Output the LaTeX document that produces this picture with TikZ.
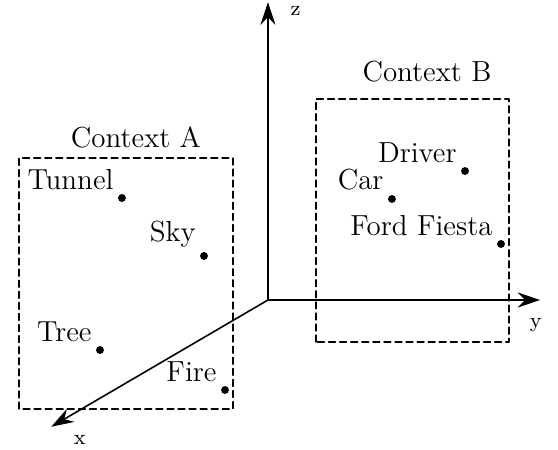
\documentclass[tikz,border=0pt]{standalone}
\usepackage{tikz}
\usetikzlibrary{arrows.meta}
\definecolor{pen}{RGB}{0,0,0}

\begin{document}
\begin{tikzpicture}[line cap=round, line join=round,
    every node/.style={font=\fontsize{11}{13}\selectfont},
    every label/.style={inner sep=1.8pt},
    axis/.style={pen, line width=0.6pt, -{Stealth[length=3mm, width=2mm, inset=1mm]}},
    ctx/.style={pen, line width=0.5pt, dash pattern=on 2.6pt off 1.6pt},
    dot/.style={circle, fill=pen, inner sep=0pt, minimum size=3pt},
    axlabel/.style={pen, font=\footnotesize}]

  %========= frame =========
  \useasboundingbox (-3.573,-2.0) rectangle (3.867,4.0);

  %========= axes =========
  \coordinate (O) at (0,0);
  \coordinate (xtip) at (-2.89,-1.69);
  \coordinate (ytip) at (3.63,0);
  \coordinate (ztip) at (0,3.97);
  \draw[axis] (O) -- (xtip);
  \draw[axis] (O) -- (ytip);
  \draw[axis] (O) -- (ztip);
  \node[axlabel] (xlab) at (-2.51,-1.86) {x};
  \node[axlabel] (ylab) at (3.57,-0.33) {y};
  \node[axlabel] (zlab) at (0.37,3.86) {z};

  %========= context A =========
  \draw[ctx] (-3.32,-1.453) rectangle (-0.467,1.893);
  \node[pen] (ctxA) at (-1.76,2.17) {Context A};
  \node[dot, label={above left:Tunnel}] (tunnel) at (-1.947,1.36) {};
  \node[dot, label={above left:Sky}]    (sky)    at (-0.853,0.587) {};
  \node[dot, label={above left:Tree}]   (tree)   at (-2.24,-0.667) {};
  \node[dot, label={above left:Fire}]   (fire)   at (-0.573,-1.2) {};

  %========= context B =========
  \draw[ctx] (0.64,-0.56) rectangle (3.213,2.68);
  \node[pen] (ctxB) at (2.12,3.04) {Context B};
  \node[dot, label={above left:Driver}]      (driver) at (2.627,1.72) {};
  \node[dot, label={above left:Car}]         (car)    at (1.653,1.347) {};
  \node[dot, label={above left:Ford Fiesta}] (ford)   at (3.107,0.747) {};
\end{tikzpicture}
\end{document}
